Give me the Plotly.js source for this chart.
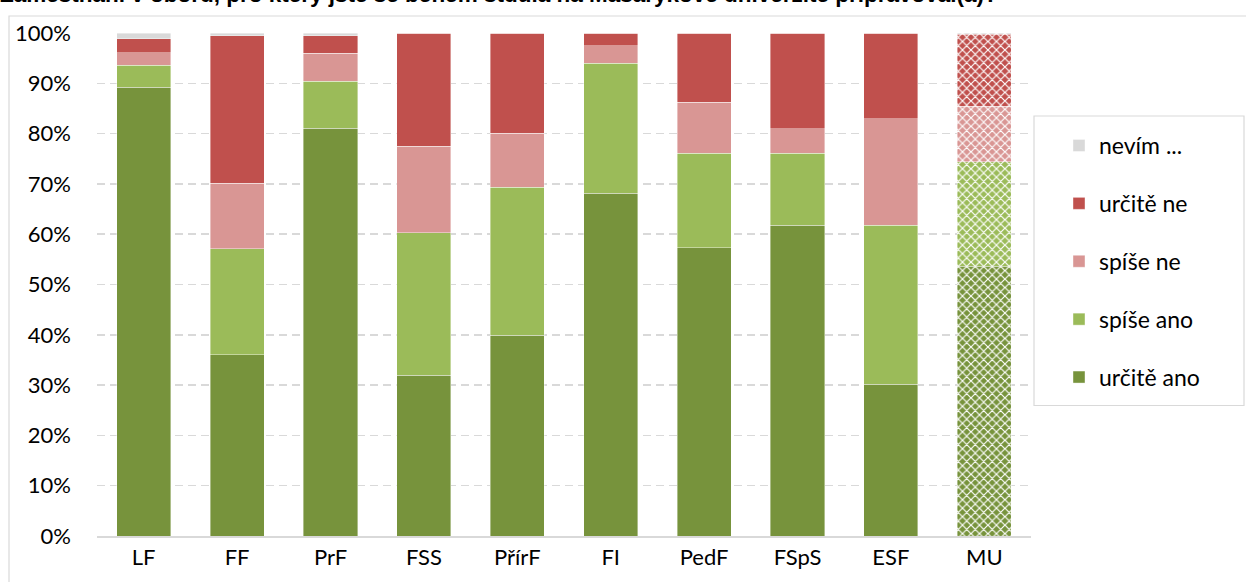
<!DOCTYPE html>
<html>
<head>
<meta charset="utf-8">
<script src="https://cdn.plot.ly/plotly-3.0.1.min.js"></script>
<style>html,body{margin:0;padding:0;background:#fff;}#chart{width:1246px;height:582px;}</style>
</head>
<body>
<div id="chart"></div>
<script>
const categories = ['LF','FF','PrF','FSS','PřírF','FI','PedF','FSpS','ESF','MU'];
const urciteAno = [89.2, 36.0, 81.1, 32.0, 39.9, 68.1, 57.3, 61.8, 30.2, 53.6];
const spiseAno  = [4.4, 21.1, 9.3, 28.3, 29.4, 25.9, 18.8, 14.3, 31.6, 20.8];
const spiseNe   = [2.5, 13.0, 5.6, 17.2, 10.8, 3.5, 10.1, 4.9, 21.2, 11.0];
const urciteNe  = [2.8, 29.4, 3.5, 22.5, 19.9, 2.5, 13.8, 19.0, 17.0, 14.4];
const nevim     = [1.1, 0.5, 0.5, 0, 0, 0, 0, 0, 0, 0.2];
const seriesNames = ['určitě ano','spíše ano','spíše ne','určitě ne','nevím ...'];
const seriesValues = [urciteAno, spiseAno, spiseNe, urciteNe, nevim];
const seriesColors = ['#77933C','#9BBB59','#D99694','#C0504D','#D9D9D9'];
const titleText = 'Zaměstnání v oboru, pro který jste se během studia na Masarykově univerzitě připravoval(a)?';

const FONT = 'Lato, "Open Sans", sans-serif';
const L = 97, R = 1031, T = 33, B = 536, W = 1246, H = 582;
const px = x => (x - L) / (R - L);
const py = y => (B - y) / (B - T);

const traces = seriesNames.map((name, i) => ({
  type: 'bar',
  name: name,
  x: categories,
  y: seriesValues[i],
  legendgroup: 'g' + i,
  legendrank: 100 - i,
  marker: {
    color: seriesColors[i],
    line: {color: 'rgba(255,255,255,0.5)', width: 0.8},
    pattern: {
      shape: categories.map(c => c === 'MU' ? 'x' : ''),
      fgcolor: categories.map(c => '#ffffff'),
      bgcolor: categories.map(c => seriesColors[i]),
      size: 6,
      solidity: 0.35
    }
  },
  hoverinfo: 'x+y+name'
}));

const layout = {
  width: W, height: H,
  margin: {l: L, r: W - R, t: T, b: H - B, pad: 0},
  paper_bgcolor: '#ffffff',
  plot_bgcolor: 'rgba(0,0,0,0)',
  barmode: 'stack',
  bargap: 0.42,
  font: {family: FONT, size: 22, color: '#000000'},
  showlegend: true,
  legend: {
    traceorder: 'grouped',
    tracegroupgap: 25,
    x: px(1059), xanchor: 'left',
    y: py(124), yanchor: 'top',
    bgcolor: 'rgba(0,0,0,0)',
    borderwidth: 0,
    font: {family: FONT, size: 23, color: '#000000'}
  },
  xaxis: {
    type: 'category',
    showgrid: false,
    showline: true, linecolor: '#D9D9D9', linewidth: 1.5,
    ticks: '',
    tickfont: {family: FONT, size: 22, color: '#000000'},
    ticklabelstandoff: 1
  },
  yaxis: {
    range: [0, 100],
    dtick: 10,
    ticksuffix: '%',
    showgrid: true,
    gridcolor: '#D9D9D9', gridwidth: 1.5, griddash: '8px,5px',
    zeroline: false,
    showline: false,
    ticks: '',
    tickfont: {family: FONT, size: 22, color: '#000000'},
    ticklabelstandoff: 25
  },
  shapes: [
    {type: 'rect', xref: 'paper', yref: 'paper', layer: 'below',
     x0: px(9), x1: px(1260), y0: py(600), y1: py(16),
     line: {color: '#D9D9D9', width: 1.2}, fillcolor: 'rgba(0,0,0,0)'},
    {type: 'rect', xref: 'paper', yref: 'paper', layer: 'above',
     x0: px(1034), x1: px(1244), y0: py(405.5), y1: py(116),
     line: {color: '#D9D9D9', width: 1.2}, fillcolor: 'rgba(0,0,0,0)'}
  ],
  annotations: [
    {text: '<b>' + titleText + '</b>', xref: 'paper', yref: 'paper',
     x: px(-2), xanchor: 'left', y: py(-5), yanchor: 'middle',
     showarrow: false, font: {family: 'Liberation Sans, Arial, sans-serif', size: 22.5, color: '#000000'}}
  ]
};

Plotly.newPlot('chart', traces, layout, {displayModeBar: false, staticPlot: true});
</script>
</body>
</html>
